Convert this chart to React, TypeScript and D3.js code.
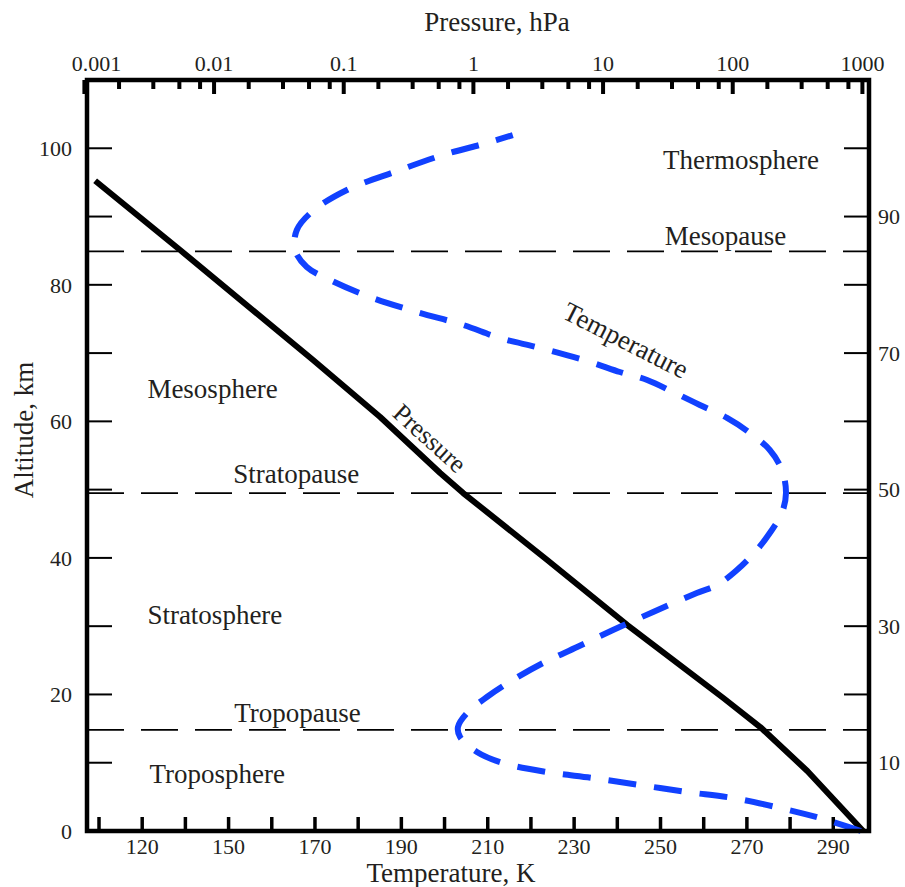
import React from "react";
import * as d3 from "d3";

// ---------- data ----------
// Temperature profile (blue dashed): altitude (km) and temperature (K)
const tempAltitude = [
  0, 1.9, 3.37, 4.83, 5.71, 6.74, 7.76, 8.64, 9.96, 11.57, 13.77, 15.23, 17.28,
  19.63, 22.12, 24.61, 26.95, 29.44, 32.08, 34.86, 36.03, 38.23, 41.16, 43.65,
  46.58, 49.51, 52.88, 55.81, 58.3, 60.5, 62.4, 64.3, 66.06, 67.23, 68.7, 70.75,
  72.21, 74.12, 76.02, 78.22, 80.71, 82.61, 85.1, 88.03, 90.81, 93.89, 96.67,
  99.01, 100.77, 101.94,
];
const tempKelvin = [
  296.4, 286.9, 277.7, 266.8, 256.1, 245.2, 234.4, 223.7, 213.5, 207.5, 203.6,
  203.1, 205.2, 209.8, 215.8, 222.8, 230.7, 239.0, 248.3, 258.4, 263.1, 267.7,
  272.3, 275.3, 278.1, 279.05, 278.1, 275.3, 270.7, 265.4, 259.1, 252.9, 246.9,
  240.6, 233.7, 222.1, 212.8, 204.3, 193.6, 182.7, 173.5, 168.1, 165.4, 165.8,
  169.5, 177.4, 189.0, 199.6, 209.8, 215.8,
];

// Pressure profile (black solid): altitude (km) and pressure (hPa)
const pressureAltitude = [0, 8.79, 15.23, 19.48, 30.17, 39.7, 49.5, 52.44, 60.64, 68.99, 85.1, 95.25];
const pressureHPa = [1013, 376, 163, 84.6, 15.4, 3.71, 0.834, 0.554, 0.191, 0.058, 0.00547, 0.00121];

// Layer boundaries (dashed horizontal lines)
const boundaryAltitudes = [84.9, 49.5, 14.8];

// Axes
const altitudeTickValues = [10, 20, 30, 40, 50, 60, 70, 80, 90, 100];
const altitudeLeftLabels = [0, 20, 40, 60, 80, 100];
const altitudeRightLabels = [10, 30, 50, 70, 90];
const temperatureTickValues = [120, 130, 140, 150, 160, 170, 180, 190, 200, 210, 220, 230, 240, 250, 260, 270, 280, 290];
const temperatureLabelValues = [130, 150, 170, 190, 210, 230, 250, 270, 290];
const temperatureLabelTexts = ["120", "150", "170", "190", "210", "230", "250", "270", "290"];
const pressureDecades = [0.001, 0.01, 0.1, 1, 10, 100, 1000];
const pressureDecadeLabels = ["0.001", "0.01", "0.1", "1", "10", "100", "1000"];
const pressureMinorMultipliers = [1.85, 3.4, 5.4, 7.8];

// Region labels (text, temperature-axis position, altitude of baseline)
const regionNames = ["Thermosphere", "Mesopause", "Mesosphere", "Stratopause", "Stratosphere", "Tropopause", "Troposphere"];
const regionT = [250.6, 251.0, 131.2, 151.1, 131.2, 151.3, 131.7];
const regionZ = [96.9, 85.9, 63.4, 51.0, 30.3, 16.0, 7.0];

// ---------- component ----------
const W = 905;
const H = 887;
const FONT = "'Liberation Serif', 'Times New Roman', Times, serif";
const TEXT = "#231f20";
const BLUE = "#1141ff";

export default function App() {
  const left = 87, right = 869, top = 80, bottom = 831;

  const y = d3.scaleLinear().domain([0, 110]).range([bottom, top]);
  const xT = d3.scaleLinear().domain([117.22, 298.27]).range([left, right]);
  const xP = d3.scaleLog().domain([0.001, 1000]).range([84.4, 862.4]);

  const tempLine = d3
    .line<number>()
    .x((_, i) => xT(tempKelvin[i]))
    .y((z) => y(z))
    .curve(d3.curveCatmullRom.alpha(0.5));

  const presLine = d3
    .line<number>()
    .x((_, i) => xP(pressureHPa[i]))
    .y((z) => y(z))
    .curve(d3.curveLinear);

  const minorP: number[] = [];
  pressureDecades.slice(0, -1).forEach((d) => pressureMinorMultipliers.forEach((m) => minorP.push(d * m)));

  return (
    <svg
      width={W}
      height={H}
      viewBox={`0 0 ${W} ${H}`}
      style={{ position: "absolute", left: 0, top: 0, background: "#fff" }}
      fontFamily={FONT}
    >
      <rect x={0} y={0} width={W} height={H} fill="#fff" />

      {/* boundary dashed lines */}
      {boundaryAltitudes.map((z, i) => (
        <line
          key={"b" + i}
          x1={left}
          x2={right}
          y1={y(z)}
          y2={y(z)}
          stroke="#000"
          strokeWidth={1.8}
          strokeDasharray="37,17"
        />
      ))}

      {/* altitude ticks */}
      {altitudeTickValues.map((z) => (
        <g key={"at" + z}>
          <line x1={left} x2={left + 25} y1={y(z)} y2={y(z)} stroke="#000" strokeWidth={2} />
          <line x1={right - 25} x2={right} y1={y(z)} y2={y(z)} stroke="#000" strokeWidth={2} />
        </g>
      ))}

      {/* temperature ticks (bottom) */}
      {temperatureTickValues.map((t) => (
        <line key={"tt" + t} x1={xT(t)} x2={xT(t)} y1={bottom} y2={bottom - 14} stroke="#000" strokeWidth={3.5} />
      ))}

      {/* pressure ticks (top) */}
      {pressureDecades.map((p) => (
        <line key={"pd" + p} x1={xP(p)} x2={xP(p)} y1={top} y2={top + 14} stroke="#000" strokeWidth={4} />
      ))}
      {minorP.map((p, i) => (
        <line key={"pm" + i} x1={xP(p)} x2={xP(p)} y1={top} y2={top + 9} stroke="#000" strokeWidth={4} />
      ))}

      {/* pressure curve */}
      <path d={presLine(pressureAltitude) || ""} fill="none" stroke="#000" strokeWidth={6} strokeLinejoin="round" />

      {/* temperature curve */}
      <path
        d={tempLine(tempAltitude) || ""}
        fill="none"
        stroke={BLUE}
        strokeWidth={6}
        strokeDasharray="28,18"
      />

      {/* frame */}
      <rect x={left} y={top} width={right - left} height={bottom - top} fill="none" stroke="#000" strokeWidth={4.5} />

      {/* tick labels */}
      <g fill={TEXT} fontSize={22}>
        {altitudeLeftLabels.map((z) => (
          <text key={"al" + z} x={72} y={y(z)} dy="0.35em" textAnchor="end">
            {z}
          </text>
        ))}
        {altitudeRightLabels.map((z) => (
          <text key={"ar" + z} x={878} y={y(z)} dy="0.35em" textAnchor="start">
            {z}
          </text>
        ))}
        {temperatureLabelValues.map((t, i) => (
          <text key={"tl" + t} x={xT(t)} y={854} textAnchor="middle">
            {temperatureLabelTexts[i]}
          </text>
        ))}
        {pressureDecades.map((p, i) => (
          <text key={"pl" + p} x={xP(p)} dx={i === 0 ? 12 : 0} y={71} textAnchor="middle">
            {pressureDecadeLabels[i]}
          </text>
        ))}
      </g>

      {/* axis titles */}
      <g fill={TEXT} fontSize={27}>
        <text x={451} y={882} textAnchor="middle">
          Temperature, K
        </text>
        <text x={497} y={31} textAnchor="middle">
          Pressure, hPa
        </text>
        <text transform={`translate(33,430) rotate(-90)`} textAnchor="middle">
          Altitude, km
        </text>
      </g>

      {/* region labels */}
      <g fill={TEXT} fontSize={27}>
        {regionNames.map((n, i) => (
          <text key={n} x={xT(regionT[i])} y={y(regionZ[i])}>
            {n}
          </text>
        ))}
        <text transform={`translate(626,340) rotate(27)`} textAnchor="middle" dy="0.35em" fontSize={27}>
          Temperature
        </text>
        <text transform={`translate(430,438) rotate(42)`} textAnchor="middle" dy="0.35em" fontSize={26}>
          Pressure
        </text>
      </g>
    </svg>
  );
}
